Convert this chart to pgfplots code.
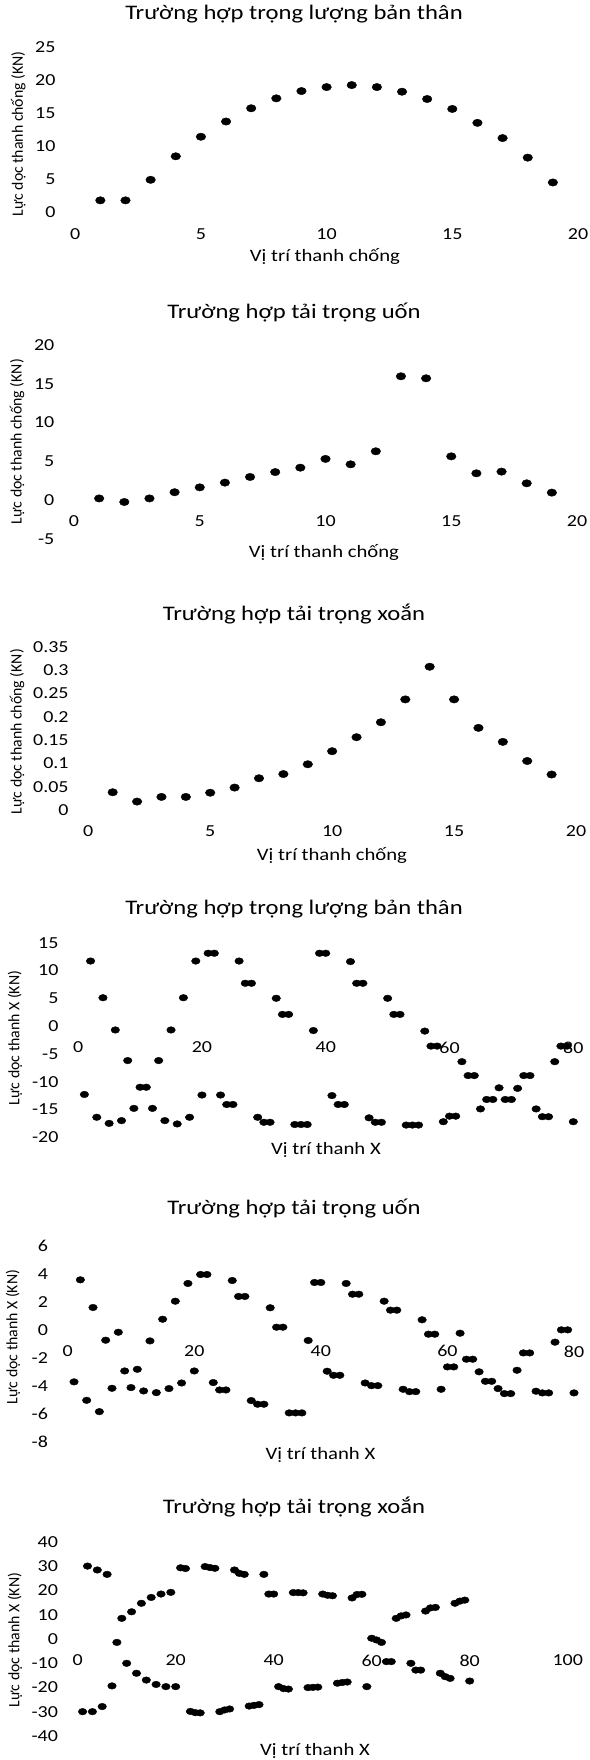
\documentclass[border=0pt]{standalone}
\usepackage{fontspec}
\setmainfont{Carlito}[FakeStretch=1.19]
\newfontfamily\ylfamily{Carlito}
\usepackage{pgfplots}
\pgfplotsset{compat=1.18}
\newcommand\titlefont{\fontsize{20.7}{24}\selectfont}
\newcommand\ticksfont{\fontsize{16.8}{19}\selectfont}
\newcommand\xlfont{\fontsize{17.4}{20}\selectfont}
\newcommand\ylfont{\ylfamily\fontsize{15.8}{18}\selectfont}
\pgfplotsset{
  panel/.style={
    scale only axis, anchor=south west,
    axis x line*=middle, axis y line*=left,
    axis line style={draw=none,-},
    major tick length=0pt, minor tick num=0,
    hide obscured x ticks=false, hide obscured y ticks=false,
    tick label style={font=\ticksfont},
    xticklabel style={anchor=center, inner sep=0pt, yshift=-21.5pt},
    yticklabel style={anchor=east, inner sep=0pt, xshift=-19.5pt},
    /pgf/number format/assume math mode=true,
    title style={font=\titlefont, anchor=center, inner sep=0pt},
    xlabel style={font=\xlfont, anchor=center, inner sep=0pt},
    ylabel style={font=\ylfont, anchor=center, inner sep=0pt},
    clip=false,
  },
  big dots/.style={only marks, mark=*, mark size=3.7pt, mark options={xscale=1.3, fill=black, draw=black}},
  small dots/.style={only marks, mark=*, mark size=3.3pt, mark options={xscale=1.3, fill=black, draw=black}},
}
\begin{document}
\begin{tikzpicture}
\path[use as bounding box] (0,0) rectangle (589pt,1760pt);
% Panel 1
\begin{axis}[panel, at={(75.2pt,1547.7pt)}, width=502.8pt, height=165.6pt,
  xmin=0, xmax=20, ymin=0, ymax=25, xtick={0,5,10,15,20}, ytick={0,5,10,15,20,25},
  title={Trường hợp trọng lượng bản thân}, title style={at={(axis description cs:0.4352,1.1612)}},
  xlabel={Vị trí thanh chống}, xlabel style={at={(axis description cs:0.4968,-0.2681)}},
  ylabel={Lực dọc thanh chống (KN)}, ylabel style={at={(axis description cs:-0.1132,0.4728)}}]
\addplot[big dots] coordinates {(1,1.8)(2,1.8)(3,4.9)(4,8.45)(5,11.4)(6,13.7)(7,15.7)(8,17.2)(9,18.3)(10,18.9)(11,19.2)(12,18.9)(13,18.2)(14,17.1)(15,15.6)(16,13.5)(17,11.2)(18,8.25)(19,4.5)};
\end{axis}
% Panel 2
\begin{axis}[panel, at={(74pt,1221.25pt)}, width=503pt, height=193.75pt,
  xmin=0, xmax=20, ymin=-5, ymax=20, xtick={0,5,10,15,20}, ytick={-5,0,5,10,15,20},
  title={Trường hợp tải trọng uốn}, title style={at={(axis description cs:0.4374,1.1378)}},
  xlabel={Vị trí thanh chống}, xlabel style={at={(axis description cs:0.497,-0.0699)}},
  ylabel={Lực dọc thanh chống (KN)}, ylabel style={at={(axis description cs:-0.1133,0.5009)}}]
\addplot[big dots] coordinates {(1,0.2)(2,-0.26)(3,0.2)(4,1.0)(5,1.63)(6,2.24)(7,2.97)(8,3.6)(9,4.17)(10,5.3)(11,4.6)(12,6.28)(13,15.96)(14,15.7)(15,5.63)(16,3.44)(17,3.66)(18,2.15)(19,0.95)};
\end{axis}
% Panel 3
\begin{axis}[panel, at={(88.3pt,950pt)}, width=487.7pt, height=163.3pt,
  xmin=0, xmax=20, ymin=0, ymax=0.35, xtick={0,5,10,15,20}, ytick={0,0.05,0.1,0.15,0.2,0.25,0.3,0.35},
  yticklabel style={/pgf/number format/fixed},
  title={Trường hợp tải trọng xoắn}, title style={at={(axis description cs:0.4218,1.1635)}},
  xlabel={Vị trí thanh chống}, xlabel style={at={(axis description cs:0.4997,-0.2756)}},
  ylabel={Lực dọc thanh chống (KN)}, ylabel style={at={(axis description cs:-0.1462,0.4795)}}]
\addplot[big dots] coordinates {(1,0.038)(2,0.018)(3,0.028)(4,0.028)(5,0.037)(6,0.048)(7,0.068)(8,0.077)(9,0.098)(10,0.126)(11,0.156)(12,0.188)(13,0.237)(14,0.307)(15,0.237)(16,0.176)(17,0.146)(18,0.105)(19,0.076)};
\end{axis}
% Panel 4
\begin{axis}[panel, at={(78.2pt,622.7pt)}, width=495.1pt, height=194.6pt,
  xmin=0, xmax=80, ymin=-20, ymax=15, xtick={0,20,40,60,80}, ytick={-20,-15,-10,-5,0,5,10,15},
  title={Trường hợp trọng lượng bản thân}, title style={at={(axis description cs:0.4359,1.1423)}},
  xlabel={Vị trí thanh X}, xlabel style={at={(axis description cs:0.5005,-0.0653)}},
  ylabel={Lực dọc thanh X (KN)}, ylabel style={at={(axis description cs:-0.1277,0.5103)}}]
\addplot[small dots] coordinates {
(1,-12.3)(2,11.7)(3,-16.4)(4,5.1)(5,-17.5)(6,-0.7)(7,-17.0)(8,-6.2)(9,-14.8)(10,-11.0)
(11,-11.0)(12,-14.8)(13,-6.2)(14,-17.0)(15,-0.7)(16,-17.6)(17,5.1)(18,-16.4)(19,11.7)(20,-12.4)
(21,13.1)(22,13.1)(23,-12.4)(24,-14.1)(25,-14.1)(26,11.7)(27,7.7)(28,7.7)(29,-16.4)(30,-17.3)
(31,-17.3)(32,5.0)(33,2.1)(34,2.1)(35,-17.7)(36,-17.7)(37,-17.7)(38,-0.8)(39,13.1)(40,13.1)
(41,-12.5)(42,-14.1)(43,-14.1)(44,11.6)(45,7.7)(46,7.7)(47,-16.5)(48,-17.3)(49,-17.3)(50,5.0)
(51,2.1)(52,2.1)(53,-17.8)(54,-17.8)(55,-17.8)(56,-0.9)(57,-3.6)(58,-3.6)(59,-17.2)(60,-16.2)
(61,-16.2)(62,-6.4)(63,-8.9)(64,-8.9)(65,-14.9)(66,-13.2)(67,-13.2)(68,-11.1)(69,-13.2)(70,-13.2)
(71,-11.2)(72,-8.9)(73,-8.9)(74,-14.9)(75,-16.3)(76,-16.3)(77,-6.4)(78,-3.6)(79,-3.6)(80,-17.2)};
\end{axis}
% Panel 5
\begin{axis}[panel, at={(67.7pt,318.3pt)}, width=506.3pt, height=195.7pt,
  xmin=0, xmax=80, ymin=-8, ymax=6, xtick={0,20,40,60,80}, ytick={-8,-6,-4,-2,0,2,4,6},
  title={Trường hợp tải trọng uốn}, title style={at={(axis description cs:0.447,1.1584)}},
  xlabel={Vị trí thanh X}, xlabel style={at={(axis description cs:0.4993,-0.068)}},
  ylabel={Lực dọc thanh X (KN)}, ylabel style={at={(axis description cs:-0.108,0.535)}}]
\addplot[small dots] coordinates {
(1,-3.72)(2,3.58)(3,-5.04)(4,1.6)(5,-5.85)(6,-0.74)(7,-4.18)(8,-0.17)(9,-2.94)(10,-4.13)
(11,-2.82)(12,-4.37)(13,-0.79)(14,-4.49)(15,0.76)(16,-4.2)(17,2.05)(18,-3.8)(19,3.32)(20,-2.94)
(21,3.96)(22,3.96)(23,-3.77)(24,-4.3)(25,-4.3)(26,3.53)(27,2.39)(28,2.39)(29,-5.06)(30,-5.32)
(31,-5.32)(32,1.58)(33,0.19)(34,0.19)(35,-5.94)(36,-5.94)(37,-5.94)(38,-0.76)(39,3.39)(40,3.39)
(41,-2.96)(42,-3.25)(43,-3.25)(44,3.32)(45,2.55)(46,2.55)(47,-3.8)(48,-3.99)(49,-3.99)(50,2.05)
(51,1.41)(52,1.41)(53,-4.25)(54,-4.42)(55,-4.42)(56,0.72)(57,-0.31)(58,-0.31)(59,-4.25)(60,-2.65)
(61,-2.65)(62,-0.24)(63,-2.1)(64,-2.1)(65,-3.0)(66,-3.68)(67,-3.68)(68,-4.2)(69,-4.56)(70,-4.56)
(71,-2.89)(72,-1.65)(73,-1.65)(74,-4.39)(75,-4.51)(76,-4.51)(77,-0.88)(78,0.0)(79,0.0)(80,-4.51)};
\end{axis}
% Panel 6
\begin{axis}[panel, at={(77.7pt,23.8pt)}, width=490pt, height=194.4pt,
  xmin=0, xmax=100, ymin=-40, ymax=40, xtick={0,20,40,60,80,100}, ytick={-40,-30,-20,-10,0,10,20,30,40},
  title={Trường hợp tải trọng xoắn}, title style={at={(axis description cs:0.4414,1.1466)}},
  xlabel={Vị trí thanh X}, xlabel style={at={(axis description cs:0.4843,-0.0746)}},
  ylabel={Lực dọc thanh X (KN)}, ylabel style={at={(axis description cs:-0.128,0.4949)}}]
\addplot[small dots] coordinates {
(1,-29.9)(2,30.0)(3,-29.9)(4,28.4)(5,-27.8)(6,26.6)(7,-19.3)(8,-1.4)(9,8.5)(10,-10.0)
(11,11.2)(12,-14.1)(13,14.7)(14,-16.9)(15,17.1)(16,-18.7)(17,18.5)(18,-19.6)(19,19.2)(20,-19.6)
(21,29.3)(22,29.0)(23,-29.8)(24,-30.3)(25,-30.4)(26,29.8)(27,29.4)(28,29.1)(29,-29.9)(30,-29.2)
(31,-28.8)(32,28.4)(33,27.0)(34,26.6)(35,-27.6)(36,-27.3)(37,-27.0)(38,26.6)(39,18.5)(40,18.5)
(41,-19.6)(42,-20.4)(43,-20.6)(44,19.1)(45,19.1)(46,19.0)(47,-20.0)(48,-19.9)(49,-19.8)(50,18.5)
(51,18.0)(52,17.8)(53,-18.2)(54,-17.9)(55,-17.7)(56,16.9)(57,18.3)(58,18.4)(59,-19.6)(60,0.3)
(61,-0.4)(62,-1.4)(63,-9.3)(64,-9.3)(65,8.5)(66,9.5)(67,9.9)(68,-10.0)(69,-12.8)(70,-12.8)
(71,11.5)(72,12.8)(73,13.0)(74,-14.1)(75,-15.5)(76,-16.2)(77,14.7)(78,15.6)(79,16.0)(80,-17.3)};
\end{axis}
\end{tikzpicture}
\end{document}
